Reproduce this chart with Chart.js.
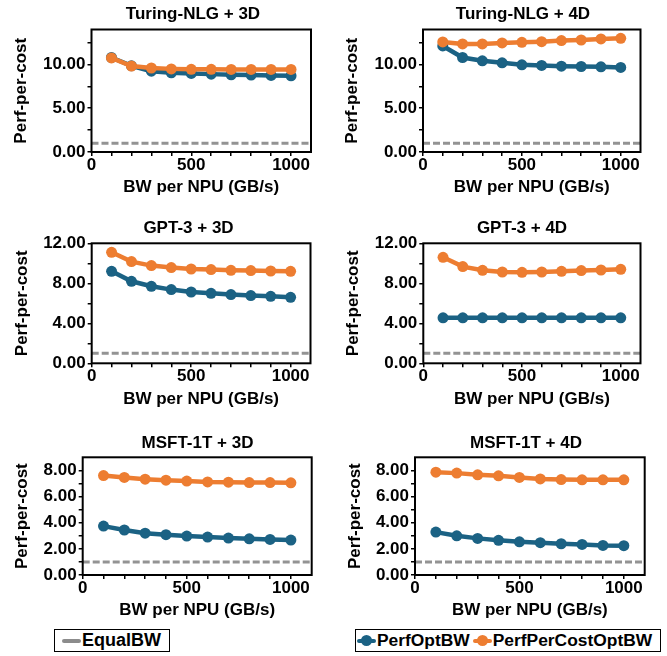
<!DOCTYPE html>
<html>
<head>
<meta charset="utf-8">
<script src="https://cdn.jsdelivr.net/npm/chart.js@4.4.1/dist/chart.umd.min.js"></script>
<style>
  html, body { margin: 0; padding: 0; background: #fff; overflow: hidden; width: 667px; height: 656px; }
  #wrap { position: relative; width: 667px; height: 656px; }
  #wrap canvas { position: absolute; }
  .legend { position: absolute; box-sizing: border-box; border: 1px solid #000; background: #fff;
            display: flex; align-items: center; color: #000;
            font: bold 18px "Liberation Sans", Arial, sans-serif; white-space: nowrap; }
  .sym { position: relative; display: inline-block; width: 19px; height: 11px; margin-right: 1px; }
  .sym .ln { position: absolute; left: 0; right: 0; top: 3.5px; height: 4px; border-radius: 2px; }
  .sym .pt { position: absolute; left: 4px; top: 0; width: 11px; height: 11px; border-radius: 50%; }
</style>
</head>
<body>
<div id="wrap">
  <canvas id="c1"></canvas>
  <canvas id="c2"></canvas>
  <canvas id="c3"></canvas>
  <canvas id="c4"></canvas>
  <canvas id="c5"></canvas>
  <canvas id="c6"></canvas>
  <div class="legend" id="legLeft" style="left:54px;top:629px;width:116px;height:23px;padding-left:7px;">
    <span class="sym"><span class="ln" style="background:#8c8c8c"></span></span>EqualBW
  </div>
  <div class="legend" id="legRight" style="left:355px;top:629px;width:306px;height:23px;padding-left:1px;font-size:17.4px;">
    <span class="sym"><span class="ln" style="background:#1b6284"></span><span class="pt" style="background:#1b6284"></span></span>PerfOptBW
    <span class="sym" style="margin-left:3px"><span class="ln" style="background:#ed7d31"></span><span class="pt" style="background:#ed7d31"></span></span>PerfPerCostOptBW
  </div>
</div>
<script>
// x values (GB/s per NPU)
const bwPerNpu = [100, 200, 300, 400, 500, 600, 700, 800, 900, 1000];

// EqualBW baseline, drawn across the whole x range
const equalBwX = [0, 1100];
const equalBw = [1.0, 1.0];

// Turing-NLG
const turing3dPerfOpt  = [10.80, 9.85, 9.24, 9.05, 8.98, 8.90, 8.83, 8.79, 8.75, 8.71];
const turing3dPerfCost = [10.75, 9.82, 9.60, 9.50, 9.45, 9.45, 9.44, 9.44, 9.44, 9.44];
const turing4dPerfOpt  = [12.12, 10.80, 10.42, 10.19, 9.96, 9.89, 9.81, 9.77, 9.73, 9.66];
const turing4dPerfCost = [12.58, 12.35, 12.35, 12.46, 12.54, 12.61, 12.73, 12.80, 12.92, 12.99];

// GPT-3
const gpt3dPerfOpt  = [9.20, 8.20, 7.70, 7.37, 7.13, 7.00, 6.87, 6.77, 6.70, 6.60];
const gpt3dPerfCost = [11.10, 10.17, 9.77, 9.57, 9.43, 9.37, 9.30, 9.27, 9.23, 9.20];
const gpt4dPerfOpt  = [4.55, 4.55, 4.55, 4.55, 4.55, 4.55, 4.55, 4.55, 4.55, 4.55];
const gpt4dPerfCost = [10.60, 9.67, 9.30, 9.13, 9.10, 9.13, 9.20, 9.27, 9.33, 9.40];

// MSFT-1T
const msft3dPerfOpt  = [3.74, 3.44, 3.20, 3.08, 2.98, 2.90, 2.82, 2.77, 2.72, 2.67];
const msft3dPerfCost = [7.60, 7.46, 7.33, 7.25, 7.18, 7.12, 7.10, 7.07, 7.07, 7.05];
const msft4dPerfOpt  = [3.28, 3.00, 2.80, 2.65, 2.54, 2.47, 2.39, 2.34, 2.26, 2.24];
const msft4dPerfCost = [7.86, 7.79, 7.66, 7.58, 7.46, 7.35, 7.30, 7.28, 7.28, 7.28];

// axis ticks (all ticks get a mark, only the labelled ones get text)
const xTicks = [0, 100, 200, 300, 400, 500, 600, 700, 800, 900, 1000];
const xLabels = [0, 500, 1000];
const xMax = 1100;
const yTicksTuring = [0, 2.5, 5, 7.5, 10, 12.5];
const yLabelsTuring = [0, 5, 10];
const yMaxTuring = 14;
const yTicksGpt = [0, 2, 4, 6, 8, 10, 12];
const yLabelsGpt = [0, 4, 8, 12];
const yMaxGpt = 12;
const yTicksMsft = [0, 1, 2, 3, 4, 5, 6, 7, 8];
const yLabelsMsft = [0, 2, 4, 6, 8];
const yMaxMsft = 9;

const BLUE = '#1b6284';
const ORANGE = '#ed7d31';
const GRAY = '#939393';
const FONT = '"Liberation Sans", Arial, sans-serif';
const FS = 17;
const LH = FS * 1.2;

Chart.defaults.font.family = FONT;
Chart.defaults.color = '#000';

// where each panel's plot box, title and axis titles sit on the page
const panels = [
  { id: 'c1', title: 'Turing-NLG + 3D', opt: turing3dPerfOpt, cost: turing3dPerfCost,
    yTicks: yTicksTuring, yLabels: yLabelsTuring, yMax: yMaxTuring,
    box: { left: 91.5, right: 311, top: 29.5, bottom: 152, titleX: 193, titleY: 14.2, yTitleX: 20.7, xTitleY: 187.5 } },
  { id: 'c2', title: 'Turing-NLG + 4D', opt: turing4dPerfOpt, cost: turing4dPerfCost,
    yTicks: yTicksTuring, yLabels: yLabelsTuring, yMax: yMaxTuring,
    box: { left: 423, right: 640.5, top: 29.5, bottom: 152, titleX: 523, titleY: 14.2, yTitleX: 352.3, xTitleY: 187.5 } },
  { id: 'c3', title: 'GPT-3 + 3D', opt: gpt3dPerfOpt, cost: gpt3dPerfCost,
    yTicks: yTicksGpt, yLabels: yLabelsGpt, yMax: yMaxGpt,
    box: { left: 91.7, right: 310.5, top: 243.3, bottom: 363.3, titleX: 188.3, titleY: 228.6, yTitleX: 21.7, xTitleY: 400 } },
  { id: 'c4', title: 'GPT-3 + 4D', opt: gpt4dPerfOpt, cost: gpt4dPerfCost,
    yTicks: yTicksGpt, yLabels: yLabelsGpt, yMax: yMaxGpt,
    box: { left: 423.3, right: 640.5, top: 243.3, bottom: 363.3, titleX: 522, titleY: 228.6, yTitleX: 353.3, xTitleY: 400 } },
  { id: 'c5', title: 'MSFT-1T + 3D', opt: msft3dPerfOpt, cost: msft3dPerfCost,
    yTicks: yTicksMsft, yLabels: yLabelsMsft, yMax: yMaxMsft,
    box: { left: 82.7, right: 311.7, top: 457.3, bottom: 575, titleX: 197.5, titleY: 443, yTitleX: 21.7, xTitleY: 611 } },
  { id: 'c6', title: 'MSFT-1T + 4D', opt: msft4dPerfOpt, cost: msft4dPerfCost,
    yTicks: yTicksMsft, yLabels: yLabelsMsft, yMax: yMaxMsft,
    box: { left: 415, right: 644.7, top: 457.3, bottom: 575, titleX: 525.8, titleY: 443, yTitleX: 355, xTitleY: 611 } }
];

// black frame round the plot area
const framePlugin = {
  id: 'frame',
  afterDraw(chart) {
    const a = chart.chartArea, ctx = chart.ctx;
    ctx.save();
    ctx.strokeStyle = '#000';
    ctx.lineWidth = 2;
    ctx.strokeRect(a.left, a.top, a.right - a.left, a.bottom - a.top);
    ctx.restore();
  }
};

const pts = (xs, ys) => xs.map((x, i) => ({ x: x, y: ys[i] }));
const font = { family: FONT, size: FS, weight: 'bold' };

panels.forEach(p => {
  const b = p.box;
  const cx = Math.round(b.yTitleX - LH / 2);
  const cw = Math.round(2 * (b.titleX - cx));
  const cy = Math.round(b.titleY - LH / 2 - 4);
  const ch = Math.round(b.xTitleY + LH / 2 - cy);
  const yAxisW = b.left - cx;
  const rightPadW = cx + cw - b.right;
  const titleTop = b.titleY - LH / 2 - cy;
  const titleBottom = b.top - (b.titleY + LH / 2);
  const xAxisH = cy + ch - b.bottom;

  const canvas = document.getElementById(p.id);
  canvas.width = cw;
  canvas.height = ch;
  canvas.style.left = cx + 'px';
  canvas.style.top = cy + 'px';

  new Chart(canvas, {
    type: 'line',
    data: {
      datasets: [
        {
          label: 'PerfPerCostOptBW',
          data: pts(bwPerNpu, p.cost),
          borderColor: ORANGE,
          backgroundColor: ORANGE,
          borderWidth: 4.5,
          pointRadius: 5.5,
          pointBorderWidth: 0,
          pointBackgroundColor: ORANGE,
          tension: 0
        },
        {
          label: 'PerfOptBW',
          data: pts(bwPerNpu, p.opt),
          borderColor: BLUE,
          backgroundColor: BLUE,
          borderWidth: 4.5,
          pointRadius: 5.5,
          pointBorderWidth: 0,
          pointBackgroundColor: BLUE,
          tension: 0
        },
        {
          label: 'EqualBW',
          data: pts(equalBwX, equalBw),
          borderColor: GRAY,
          borderWidth: 3,
          borderDash: [7, 3],
          pointRadius: 0
        }
      ]
    },
    options: {
      responsive: false,
      animation: false,
      events: [],
      layout: { autoPadding: false, padding: 0 },
      plugins: {
        legend: { display: false },
        tooltip: { enabled: false },
        title: {
          display: true,
          text: p.title,
          font: font,
          color: '#000',
          padding: { top: titleTop, bottom: titleBottom }
        }
      },
      scales: {
        x: {
          type: 'linear',
          position: 'bottom',
          min: 0,
          max: xMax,
          afterBuildTicks: s => { s.ticks = xTicks.map(v => ({ value: v })); },
          afterFit: s => { s.height = xAxisH; },
          ticks: {
            autoSkip: false,
            maxRotation: 0,
            padding: -1,
            font: font,
            color: '#000',
            callback: v => xLabels.includes(v) ? String(v) : ''
          },
          grid: { display: true, drawOnChartArea: false, drawTicks: true, tickLength: 4, color: '#000', lineWidth: 1.5 },
          border: { display: false },
          title: { display: true, text: 'BW per NPU (GB/s)', font: font, color: '#000', padding: 0 }
        },
        y: {
          type: 'linear',
          position: 'left',
          min: 0,
          max: p.yMax,
          afterBuildTicks: s => { s.ticks = p.yTicks.map(v => ({ value: v })); },
          afterFit: s => { s.width = yAxisW; },
          ticks: {
            autoSkip: false,
            padding: 2,
            font: font,
            color: '#000',
            callback: v => p.yLabels.includes(v) ? v.toFixed(2) : ''
          },
          grid: { display: true, drawOnChartArea: false, drawTicks: true, tickLength: 4, color: '#000', lineWidth: 1.5 },
          border: { display: false },
          title: { display: true, text: 'Perf-per-cost', font: font, color: '#000', padding: 0 }
        },
        yRight: {
          type: 'linear',
          position: 'right',
          display: true,
          afterFit: s => { s.width = rightPadW; },
          ticks: { display: false },
          grid: { display: false },
          border: { display: false }
        }
      }
    },
    plugins: [framePlugin]
  });
});
</script>
</body>
</html>
